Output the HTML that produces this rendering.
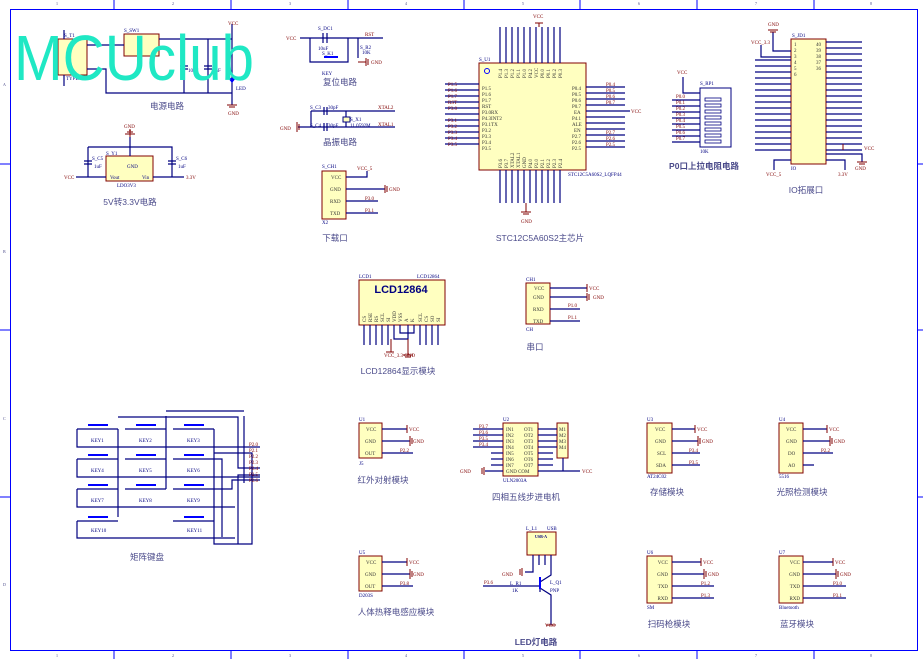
<!DOCTYPE html>
<html><head><meta charset="utf-8"><style>
html,body{margin:0;padding:0;background:#fff;}
svg{display:block;font-family:"Liberation Serif","Noto Serif CJK SC",serif;}
.w{stroke:#000080;stroke-width:1.2;fill:none}
.r{stroke:#800000;stroke-width:1;fill:none}
.b{fill:#ffffc0;stroke:#800000;stroke-width:1}
.t{fill:#800000;font-size:5px}
.n{fill:#000080;font-size:5px}
.k{fill:#333;font-size:5px}
.c{fill:#4a4a8a;font-size:8.5px;font-family:"Liberation Sans","Noto Sans CJK SC",sans-serif;text-anchor:middle}
.f{stroke:#0000ff;stroke-width:1;fill:none}
</style></head><body>
<svg width="923" height="659" viewBox="0 0 923 659" xmlns="http://www.w3.org/2000/svg">
<rect x="10.5" y="9.5" width="907" height="641" class="f"/>
<g class="f">
<line x1="114" y1="0" x2="114" y2="9"/><line x1="231" y1="0" x2="231" y2="9"/><line x1="348" y1="0" x2="348" y2="9"/><line x1="464" y1="0" x2="464" y2="9"/><line x1="580" y1="0" x2="580" y2="9"/><line x1="697" y1="0" x2="697" y2="9"/><line x1="814" y1="0" x2="814" y2="9"/>
<line x1="114" y1="651" x2="114" y2="659"/><line x1="231" y1="651" x2="231" y2="659"/><line x1="348" y1="651" x2="348" y2="659"/><line x1="464" y1="651" x2="464" y2="659"/><line x1="580" y1="651" x2="580" y2="659"/><line x1="697" y1="651" x2="697" y2="659"/><line x1="814" y1="651" x2="814" y2="659"/>
<line x1="0" y1="164" x2="10" y2="164"/><line x1="0" y1="497" x2="10" y2="497"/><line x1="918" y1="164" x2="923" y2="164"/><line x1="918" y1="497" x2="923" y2="497"/><line x1="0" y1="330" x2="10" y2="330"/><line x1="918" y1="330" x2="923" y2="330"/>
</g>
<g fill="#4a4a8a" font-size="4">
<text x="56" y="5">1</text><text x="172" y="5">2</text><text x="289" y="5">3</text><text x="405" y="5">4</text><text x="522" y="5">5</text><text x="638" y="5">6</text><text x="755" y="5">7</text><text x="870" y="5">8</text>
<text x="56" y="657">1</text><text x="172" y="657">2</text><text x="289" y="657">3</text><text x="405" y="657">4</text><text x="522" y="657">5</text><text x="638" y="657">6</text><text x="755" y="657">7</text><text x="870" y="657">8</text>
<text x="3" y="86">A</text><text x="3" y="253">B</text><text x="3" y="420">C</text><text x="3" y="586">D</text>
</g>

<!-- POWER -->
<rect x="58" y="39" width="29" height="36" class="b"/>
<rect x="124" y="34" width="35" height="22" class="b"/>
<g class="w">
<path d="M87 45H124M159 39H232M87 69H106V93H232M184 39V93M208 39V93M232 24V105"/>
<path d="M180 66h8M180 69h8M204 66h8M204 69h8"/>
<path d="M64 30V39M64 75V86"/>
</g>
<path d="M228 78h8l-4 5z" fill="#0000ff"/>
<path d="M227 105h10M229 107h6" class="r"/>
<g class="n"><text x="64" y="37">S_T1</text><text x="124" y="32">S_SW1</text><text x="66" y="80">TYPE-C-2P</text><text x="188" y="72">10uF</text><text x="213" y="72">1nF</text><text x="236" y="50">1K</text><text x="236" y="90">LED</text></g>
<g class="t"><text x="228" y="25">VCC</text><text x="228" y="115">GND</text></g>
<text x="167" y="109" class="c">电源电路</text>

<text x="14" y="80" font-family="Liberation Sans,sans-serif" font-size="64" fill="#1fe8c4" textLength="240" lengthAdjust="spacingAndGlyphs">MCUclub</text>

<!-- 5V to 3.3V -->
<rect x="106" y="156" width="47" height="25" class="b"/>
<g class="w"><path d="M130 137V156M88 147H172V177M88 147V177M76 177H106M153 177H184"/>
<path d="M84 161h8M84 164h8M168 161h8M168 164h8"/></g>
<path d="M125 134h10M127 132h6M129 130h2M130 130V137" class="r"/>
<g class="n"><text x="106" y="155">S_Y1</text><text x="92" y="160">S_C5</text><text x="176" y="160">S_C6</text><text x="94" y="168">1uF</text><text x="178" y="168">1uF</text><text x="110" y="179">Vout</text><text x="142" y="179">Vin</text><text x="117" y="187">LDO3V3</text><text x="127" y="168">GND</text></g>
<g class="t"><text x="64" y="179">VCC</text><text x="186" y="179">3.3V</text><text x="124" y="128">GND</text></g>
<text x="130" y="205" class="c">5V转3.3V电路</text>

<!-- reset -->
<g class="w"><path d="M300 38H383M310 38V62H348V38M358 38V58"/><path d="M323 33v10M327 33v10" /></g>
<rect x="324" y="56" width="14" height="2" fill="#0000ff"/>
<path d="M366 58v8M368 59v6M358 62h8" class="r"/>
<g class="n"><text x="318" y="30">S_DC1</text><text x="318" y="50">10uF</text><text x="322" y="55">S_K1</text><text x="322" y="75">KEY</text><text x="360" y="49">S_R2</text><text x="362" y="54">10K</text></g>
<g class="t"><text x="286" y="40">VCC</text><text x="365" y="36">RST</text><text x="371" y="64">GND</text></g>
<text x="340" y="85" class="c">复位电路</text>

<!-- crystal -->
<g class="w"><path d="M311 111H395M298 127H395M311 111V127M346 111V127"/><path d="M324 107v8M327 107v8M324 123v8M327 123v8"/></g>
<rect x="343" y="117" width="7" height="5" fill="#ffffc0" stroke="#000080"/>
<path d="M297 122v10M299 124v6" class="r"/>
<g class="n"><text x="310" y="109">S_C3</text><text x="328" y="109">30pF</text><text x="310" y="127">S_C4</text><text x="328" y="127">30pF</text><text x="350" y="121">S_X1</text><text x="350" y="127">11.0592M</text></g>
<g class="t"><text x="378" y="109">XTAL2</text><text x="378" y="126">XTAL1</text><text x="280" y="130">GND</text></g>
<text x="340" y="145" class="c">晶振电路</text>

<!-- download -->
<rect x="322" y="171" width="24" height="48" class="b"/>
<g class="w"><path d="M346 177H367V171M346 189H385M346 201H378M346 213H378"/></g>
<path d="M385 185v8M387 186v6" class="r"/>
<g class="k"><text x="331" y="179">VCC</text><text x="330" y="191">GND</text><text x="330" y="203">RXD</text><text x="330" y="215">TXD</text></g>
<g class="n"><text x="322" y="168">S_CH1</text><text x="322" y="224">X2</text></g>
<g class="t"><text x="357" y="170">VCC_5</text><text x="389" y="191">GND</text><text x="365" y="200">P3.0</text><text x="365" y="212">P3.1</text></g>
<text x="335" y="241" class="c">下载口</text>

<!-- MAIN CHIP -->
<rect x="479" y="63" width="107" height="107" class="b"/>
<g class="w">
<path d="M445 84H479M445 90H479M445 96H479M445 102H479M445 108H479M445 114H479M445 120H479M445 126H479M445 132H479M445 138H479M445 144H479"/>
<path d="M586 87H625M586 93H625M586 99H625M586 105H625M586 111H630M586 117H625M586 123H625M586 129H625M586 135H625M586 141H625M586 147H625"/>
<path d="M500 27V63M506 27V63M512 27V63M518 27V63M524 27V63M530 27V63M536 27V63M542 27V63M548 27V63M554 27V63M560 27V63"/>
<path d="M500 170V203M506 170V203M512 170V203M518 170V203M524 170V203M530 170V203M536 170V203M542 170V203M548 170V203M554 170V203M560 170V203"/>
</g>
<path d="M539 23V27M535 23h8M526 203V212M521 212h10M523 214h6" class="r"/>
<circle cx="487" cy="71" r="2.5" fill="none" stroke="#0000ff"/>
<g class="k" font-size="4"><text transform="translate(502,78) rotate(-90)">P1.4</text><text transform="translate(508,78) rotate(-90)">P1.3</text><text transform="translate(514,78) rotate(-90)">P1.2</text><text transform="translate(520,78) rotate(-90)">P1.1</text><text transform="translate(526,78) rotate(-90)">P1.0</text><text transform="translate(532,78) rotate(-90)">P4.2</text><text transform="translate(538,78) rotate(-90)">VCC</text><text transform="translate(544,78) rotate(-90)">P0.0</text><text transform="translate(550,78) rotate(-90)">P0.1</text><text transform="translate(556,78) rotate(-90)">P0.2</text><text transform="translate(562,78) rotate(-90)">P0.3</text>
<text transform="translate(502,168) rotate(-90)">P3.6</text><text transform="translate(508,168) rotate(-90)">P3.7</text><text transform="translate(514,168) rotate(-90)">XTAL2</text><text transform="translate(520,168) rotate(-90)">XTAL1</text><text transform="translate(526,168) rotate(-90)">GND</text><text transform="translate(532,168) rotate(-90)">P4.0</text><text transform="translate(538,168) rotate(-90)">P2.0</text><text transform="translate(544,168) rotate(-90)">P2.1</text><text transform="translate(550,168) rotate(-90)">P2.2</text><text transform="translate(556,168) rotate(-90)">P2.3</text><text transform="translate(562,168) rotate(-90)">P2.4</text></g>
<g class="k"><text x="482" y="90">P1.5</text><text x="482" y="96">P1.6</text><text x="482" y="102">P1.7</text><text x="482" y="108">RST</text><text x="482" y="114">P3.0RX</text><text x="482" y="120">P4.3INT2</text><text x="482" y="126">P3.1TX</text><text x="482" y="132">P3.2</text><text x="482" y="138">P3.3</text><text x="482" y="144">P3.4</text><text x="482" y="150">P3.5</text>
<text x="572" y="90">P0.4</text><text x="572" y="96">P0.5</text><text x="572" y="102">P0.6</text><text x="572" y="108">P0.7</text><text x="574" y="114">EA</text><text x="572" y="120">P4.1</text><text x="572" y="126">ALE</text><text x="574" y="132">EN</text><text x="572" y="138">P2.7</text><text x="572" y="144">P2.6</text><text x="572" y="150">P2.5</text></g>
<g class="t"><text x="448" y="86">P1.5</text><text x="448" y="92">P1.6</text><text x="448" y="98">P1.7</text><text x="448" y="104">RST</text><text x="448" y="110">P3.0</text><text x="448" y="122">P3.1</text><text x="448" y="128">P3.2</text><text x="448" y="134">P3.3</text><text x="448" y="140">P3.4</text><text x="448" y="146">P3.5</text>
<text x="606" y="86">P0.4</text><text x="606" y="92">P0.5</text><text x="606" y="98">P0.6</text><text x="606" y="104">P0.7</text><text x="631" y="113">VCC</text><text x="606" y="134">P2.7</text><text x="606" y="140">P2.6</text><text x="606" y="146">P2.5</text><text x="533" y="18">VCC</text><text x="521" y="223">GND</text></g>
<g class="n"><text x="479" y="61">S_U1</text><text x="568" y="176">STC12C5A60S2_LQFP44</text></g>
<text x="540" y="241" class="c">STC12C5A60S2主芯片</text>

<!-- P0 pullup -->
<rect x="700" y="88" width="31" height="59" fill="none" stroke="#000080"/>
<g class="w"><path d="M683 77V93H700M672 100H700M672 106H700M672 112H700M672 118H700M672 124H700M672 130H700M672 136H700M672 142H700"/></g>
<g fill="#fff" stroke="#000080" stroke-width="0.8"><rect x="705" y="98" width="16" height="3"/><rect x="705" y="104" width="16" height="3"/><rect x="705" y="110" width="16" height="3"/><rect x="705" y="116" width="16" height="3"/><rect x="705" y="122" width="16" height="3"/><rect x="705" y="128" width="16" height="3"/><rect x="705" y="134" width="16" height="3"/><rect x="705" y="140" width="16" height="3"/></g>
<g class="t"><text x="677" y="74">VCC</text><text x="676" y="98">P0.0</text><text x="676" y="104">P0.1</text><text x="676" y="110">P0.2</text><text x="676" y="116">P0.3</text><text x="676" y="122">P0.4</text><text x="676" y="128">P0.5</text><text x="676" y="134">P0.6</text><text x="676" y="140">P0.7</text></g>
<g class="n"><text x="700" y="85">S_RP1</text><text x="700" y="153">10K</text></g>
<text x="704" y="169" class="c" style="font-weight:bold">P0口上拉电阻电路</text>

<!-- IO -->
<rect x="791" y="39" width="35" height="125" class="b"/>
<g class="w">
<path d="M755 60H791M755 66H791M755 72H791M755 78H791M755 84H791M755 90H791M755 96H791M755 102H791M755 108H791M755 114H791M755 120H791M755 126H791M755 132H791M755 138H791M755 144H791M755 150H791M773 32V51H791M761 45V57H791M774 170V160H791"/>
<path d="M826 42H862M826 48H862M826 54H862M826 60H862M826 66H862M826 72H862M826 78H862M826 84H862M826 90H862M826 96H862M826 102H862M826 108H862M826 114H862M826 120H862M826 126H862M826 132H862M826 138H862M826 144H862M826 150H862M826 154H862V162M826 160H845V170"/>
</g>
<path d="M768 30h10M770 32h6M857 162h10M859 164h6M843 150v-6" class="r"/>
<g class="t"><text x="768" y="26">GND</text><text x="751" y="44">VCC_3.3</text><text x="766" y="176">VCC_5</text><text x="838" y="176">3.3V</text><text x="864" y="150">VCC</text><text x="855" y="170">GND</text></g>
<g class="n"><text x="792" y="37">S_JD1</text><text x="791" y="170">IO</text></g>
<g class="k"><text x="794" y="46">1</text><text x="794" y="52">2</text><text x="794" y="58">3</text><text x="794" y="64">4</text><text x="794" y="70">5</text><text x="794" y="76">6</text><text x="816" y="46">40</text><text x="816" y="52">39</text><text x="816" y="58">38</text><text x="816" y="64">37</text><text x="816" y="70">36</text></g>
<text x="806" y="193" class="c">IO拓展口</text>

<!-- LCD -->
<rect x="359" y="280" width="86" height="45" class="b"/>
<text x="401" y="293" font-family="Liberation Sans,sans-serif" font-weight="bold" font-size="11" fill="#000080" text-anchor="middle">LCD12864</text>
<g class="w"><path d="M364 325V345M370 325V345M376 325V345M382 325V345M388 325V345M394 325V339H408V325M400 325V333H414V325M420 325V345M426 325V345M432 325V345M438 325V345"/></g>
<path d="M391 339v13M386 352h8M408 339v16M403 355h10M405 357h6" class="r"/>
<g class="n"><text x="359" y="278">LCD1</text><text x="417" y="278">LCD12864</text></g>
<g class="t"><text x="384" y="357">VCC_3.3 GND</text></g>
<g class="k" font-size="4"><text transform="translate(366,322) rotate(-90)">CS</text><text transform="translate(372,322) rotate(-90)">RSE</text><text transform="translate(378,322) rotate(-90)">RS</text><text transform="translate(384,322) rotate(-90)">SCL</text><text transform="translate(390,322) rotate(-90)">SI</text><text transform="translate(396,322) rotate(-90)">VDD</text><text transform="translate(402,322) rotate(-90)">VSS</text><text transform="translate(408,322) rotate(-90)">A</text><text transform="translate(414,322) rotate(-90)">K</text><text transform="translate(422,322) rotate(-90)">SCL</text><text transform="translate(428,322) rotate(-90)">CS</text><text transform="translate(434,322) rotate(-90)">SO</text><text transform="translate(440,322) rotate(-90)">SI</text></g>
<text x="398" y="374" class="c">LCD12864显示模块</text>

<!-- serial -->
<rect x="526" y="283" width="24" height="41" class="b"/>
<g class="w"><path d="M550 288H587M550 297H587M550 309H580M550 321H580"/></g>
<path d="M587 284v8M587 293v8M589 294v6" class="r"/>
<g class="k"><text x="534" y="290">VCC</text><text x="533" y="299">GND</text><text x="533" y="311">RXD</text><text x="533" y="323">TXD</text></g>
<g class="n"><text x="526" y="281">CH1</text><text x="526" y="331">CH</text></g>
<g class="t"><text x="589" y="290">VCC</text><text x="593" y="299">GND</text><text x="568" y="307">P1.0</text><text x="568" y="319">P1.1</text></g>
<text x="535" y="350" class="c">串口</text>

<!-- keyboard -->
<g class="w">
<path d="M77 429H118M125 429H166M173 429H214M77 459H118M125 459H166M173 459H214M77 489H118M125 489H166M173 489H214M77 521H118M173 521H214"/>
<path d="M77 429V447H260M77 459V477H260M77 489V507H235M77 521V538H235"/>
<path d="M118 429V517M166 416V489M244 416V483M118 417H238V468H260M166 411H244"/>
<path d="M214 429V544H238V475H260M214 453H252V544H238"/>
<path d="M214 459H222V537M214 489H232V480H260"/>
</g>
<g fill="#0000ff">
<rect x="88" y="424" width="20" height="2"/><rect x="136" y="424" width="20" height="2"/><rect x="184" y="424" width="20" height="2"/>
<rect x="88" y="454" width="20" height="2"/><rect x="136" y="454" width="20" height="2"/><rect x="184" y="454" width="20" height="2"/>
<rect x="88" y="484" width="20" height="2"/><rect x="136" y="484" width="20" height="2"/><rect x="184" y="484" width="20" height="2"/>
<rect x="88" y="516" width="20" height="2"/><rect x="184" y="516" width="20" height="2"/>
</g>
<g class="n"><text x="91" y="442">KEY1</text><text x="139" y="442">KEY2</text><text x="187" y="442">KEY3</text><text x="91" y="472">KEY4</text><text x="139" y="472">KEY5</text><text x="187" y="472">KEY6</text><text x="91" y="502">KEY7</text><text x="139" y="502">KEY8</text><text x="187" y="502">KEY9</text><text x="91" y="532">KEY10</text><text x="187" y="532">KEY11</text></g>
<g class="t"><text x="249" y="446">P2.0</text><text x="249" y="452">P2.1</text><text x="249" y="458">P2.2</text><text x="249" y="464">P2.3</text><text x="249" y="470">P2.4</text><text x="249" y="476">P2.5</text><text x="249" y="482">P2.6</text></g>
<text x="147" y="560" class="c">矩阵键盘</text>

<!-- U1 infrared -->
<rect x="359" y="423" width="23" height="35" class="b"/>
<g class="w"><path d="M382 429H407M382 441H410M382 453H413"/></g>
<path d="M407 425v8M410 436v10M412 438v6" class="r"/>
<g class="k"><text x="366" y="431">VCC</text><text x="365" y="443">GND</text><text x="365" y="455">OUT</text></g>
<g class="n"><text x="359" y="421">U1</text><text x="359" y="465">J5</text></g>
<g class="t"><text x="409" y="431">VCC</text><text x="413" y="443">GND</text><text x="400" y="452">P2.2</text></g>
<text x="383" y="483" class="c">红外对射模块</text>

<!-- U5 pyro -->
<rect x="359" y="556" width="23" height="35" class="b"/>
<g class="w"><path d="M382 562H407M382 574H410M382 586H413"/></g>
<path d="M407 558v8M410 569v10M412 571v6" class="r"/>
<g class="k"><text x="366" y="564">VCC</text><text x="365" y="576">GND</text><text x="365" y="588">OUT</text></g>
<g class="n"><text x="359" y="554">U5</text><text x="359" y="597">D203S</text></g>
<g class="t"><text x="409" y="564">VCC</text><text x="413" y="576">GND</text><text x="400" y="585">P3.8</text></g>
<text x="396" y="615" class="c">人体热释电感应模块</text>

<!-- ULN2003 -->
<rect x="503" y="423" width="35" height="53" class="b"/>
<rect x="557" y="423" width="11" height="35" class="b"/>
<g class="w"><path d="M473 429H503M473 435H503M473 441H503M473 447H503M491 453H503M491 459H503M491 465H503M485 471H503M538 429H557M538 435H557M538 441H557M538 447H557M538 453H553M538 459H553M538 465H553M538 471H580M563 458V471"/></g>
<path d="M484 467v8M482 468v6" class="r"/>
<g class="k" font-size="4.5"><text x="506" y="431">IN1</text><text x="506" y="437">IN2</text><text x="506" y="443">IN3</text><text x="506" y="449">IN4</text><text x="506" y="455">IN5</text><text x="506" y="461">IN6</text><text x="506" y="467">IN7</text><text x="506" y="473">GND COM</text><text x="524" y="431">OT1</text><text x="524" y="437">OT2</text><text x="524" y="443">OT3</text><text x="524" y="449">OT4</text><text x="524" y="455">OT5</text><text x="524" y="461">OT6</text><text x="524" y="467">OT7</text><text x="559" y="431">M1</text><text x="559" y="437">M2</text><text x="559" y="443">M3</text><text x="559" y="449">M4</text></g>
<g class="t"><text x="479" y="428">P3.7</text><text x="479" y="434">P3.6</text><text x="479" y="440">P3.5</text><text x="479" y="446">P3.4</text><text x="460" y="473">GND</text><text x="582" y="473">VCC</text></g>
<g class="n"><text x="503" y="421">U2</text><text x="503" y="482">ULN2003A</text></g>
<text x="526" y="500" class="c">四相五线步进电机</text>

<!-- U3 -->
<rect x="647" y="423" width="25" height="50" class="b"/>
<g class="w"><path d="M672 429H695M672 441H698M672 453H700M672 465H700"/></g>
<path d="M695 425v8M698 436v10M700 438v6" class="r"/>
<g class="k"><text x="655" y="431">VCC</text><text x="655" y="443">GND</text><text x="657" y="455">SCL</text><text x="656" y="467">SDA</text></g>
<g class="n"><text x="647" y="421">U3</text><text x="647" y="478">AT24C02</text></g>
<g class="t"><text x="697" y="431">VCC</text><text x="702" y="443">GND</text><text x="689" y="452">P3.4</text><text x="689" y="464">P3.5</text></g>
<text x="667" y="495" class="c">存储模块</text>

<!-- U4 -->
<rect x="779" y="423" width="24" height="50" class="b"/>
<g class="w"><path d="M803 429H827M803 441H830M803 453H833M803 465H814"/></g>
<path d="M827 425v8M830 436v10M832 438v6" class="r"/>
<g class="k"><text x="786" y="431">VCC</text><text x="786" y="443">GND</text><text x="788" y="455">DO</text><text x="788" y="467">AO</text></g>
<g class="n"><text x="779" y="421">U4</text><text x="779" y="478">5516</text></g>
<g class="t"><text x="829" y="431">VCC</text><text x="834" y="443">GND</text><text x="821" y="452">P2.2</text></g>
<text x="802" y="495" class="c">光照检测模块</text>

<!-- USB LED -->
<rect x="527" y="532" width="29" height="23" class="b" stroke="#000080"/>
<text x="541" y="538" font-size="4" font-weight="bold" fill="#000080" text-anchor="middle">USB-A</text>
<g class="w"><path d="M533 555V572H525M539 555V565M545 555V565M551 555V575L540 582M540 578V592M540 588L551 595V625M483 586H530M540 586H530"/></g>
<rect x="539" y="577" width="2" height="12" fill="#0000ff"/>
<path d="M522 568v8M520 569v6M551 625h-5h10" class="r"/>
<g class="n"><text x="526" y="530">L_L1</text><text x="547" y="530">USB</text><text x="550" y="584">L_Q1</text><text x="550" y="592">PNP</text><text x="510" y="585">L_R1</text><text x="512" y="592">1K</text></g>
<g class="t"><text x="484" y="584">P3.6</text><text x="502" y="576">GND</text><text x="545" y="627">VCC</text></g>
<text x="536" y="645" class="c" style="font-weight:bold">LED灯电路</text>

<!-- U6 -->
<rect x="647" y="556" width="25" height="47" class="b"/>
<g class="w"><path d="M672 562H701M672 574H704M672 586H714M672 598H714"/></g>
<path d="M701 558v8M704 569v10M706 571v6" class="r"/>
<g class="k"><text x="668" y="564" text-anchor="end">VCC</text><text x="668" y="576" text-anchor="end">GND</text><text x="668" y="588" text-anchor="end">TXD</text><text x="668" y="600" text-anchor="end">RXD</text></g>
<g class="n"><text x="647" y="554">U6</text><text x="647" y="609">SM</text></g>
<g class="t"><text x="703" y="564">VCC</text><text x="708" y="576">GND</text><text x="701" y="585">P1.2</text><text x="701" y="597">P1.3</text></g>
<text x="669" y="627" class="c">扫码枪模块</text>

<!-- U7 -->
<rect x="779" y="556" width="24" height="47" class="b"/>
<g class="w"><path d="M803 562H833M803 574H836M803 586H846M803 598H846"/></g>
<path d="M833 558v8M836 569v10M838 571v6" class="r"/>
<g class="k"><text x="800" y="564" text-anchor="end">VCC</text><text x="800" y="576" text-anchor="end">GND</text><text x="800" y="588" text-anchor="end">TXD</text><text x="800" y="600" text-anchor="end">RXD</text></g>
<g class="n"><text x="779" y="554">U7</text><text x="779" y="609">Bluetooth</text></g>
<g class="t"><text x="835" y="564">VCC</text><text x="840" y="576">GND</text><text x="833" y="585">P3.0</text><text x="833" y="597">P3.1</text></g>
<text x="797" y="627" class="c">蓝牙模块</text>
</svg>
</body></html>
